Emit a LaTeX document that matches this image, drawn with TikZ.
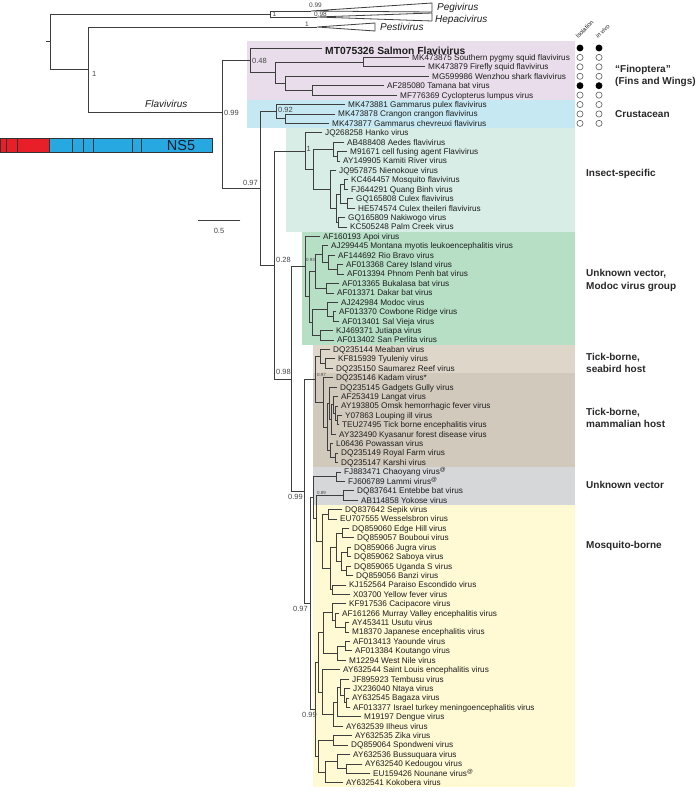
\documentclass[tikz,border=0pt]{standalone}
\usepackage{fontspec}
\setmainfont{Liberation Sans}
\definecolor{treec}{RGB}{62,62,62}
\definecolor{txtc}{RGB}{30,30,30}
\definecolor{supc}{RGB}{70,70,70}
\definecolor{grpc}{RGB}{40,40,40}
\definecolor{finc}{RGB}{233,221,235}
\definecolor{cruc}{RGB}{198,232,242}
\definecolor{insc}{RGB}{216,237,229}
\definecolor{modc}{RGB}{182,223,198}
\definecolor{seac}{RGB}{221,214,201}
\definecolor{mamc}{RGB}{209,201,188}
\definecolor{uvc}{RGB}{214,215,217}
\definecolor{mosc}{RGB}{255,249,212}
\definecolor{nsred}{RGB}{232,30,40}
\definecolor{nsblue}{RGB}{40,168,224}
\definecolor{dotc}{RGB}{90,90,90}
\newcommand{\tnode}[5]{\draw[br] (#1,#5) -- (#2,#5); \draw[br] (#2,#3) -- (#2,#4);}
\newcommand{\tleaf}[5]{\draw[br] (#2,#3) -- (#4,#3); \node[leaf] (#1) at (#4,#3) {#5};}
\begin{document}
\begin{tikzpicture}[x=1pt,y=-1pt,
  br/.style={draw=treec, line width=0.8pt, line cap=rect},
  leaf/.style={anchor=base west, xshift=3pt, yshift=-2.9pt, inner sep=0pt, font=\fontsize{8.2}{9.5}\selectfont, text=txtc},
  sup/.style={inner sep=0pt, font=\fontsize{7.5}{8}\selectfont, text=supc},
  tsup/.style={inner sep=0pt, font=\fontsize{6.5}{7}\selectfont, text=supc},
  ssup/.style={inner sep=0pt, font=\fontsize{4.5}{5}\selectfont, text=supc},
  grp/.style={anchor=base west, inner sep=0pt, font=\bfseries\fontsize{10}{12}\selectfont, text=grpc},
  clade/.style={anchor=base west, inner sep=0pt, font=\itshape\fontsize{10}{12}\selectfont, text=txtc},
  hdr/.style={anchor=base west, inner sep=0pt, rotate=45, font=\fontsize{6}{7}\selectfont, text=txtc},
  odot/.style={draw=dotc, line width=0.6pt, fill=white},
  fdot/.style={draw=black, fill=black, line width=0.6pt}]
\useasboundingbox (0,0) rectangle (697,796);
\fill[white] (0,0) rectangle (697,796);

\begin{scope}[yshift=-48pt, y=-9.42pt]
% clade boxes
\fill[finc] (247,-0.75) rectangle (575,5.5);
\fill[cruc] (247,5.5) rectangle (575,8.5);
\fill[insc] (286,8.5) rectangle (575,19.5);
\fill[modc] (302,19.5) rectangle (575,31.5);
\fill[seac] (313,31.5) rectangle (575,34.5);
\fill[mamc] (313,34.5) rectangle (575,44.5);
\fill[uvc] (313,44.5) rectangle (575,48.5);
\fill[mosc] (313,48.5) rectangle (575,78.5);

% Finoptera
\tnode{222}{250}{0}{2.625}{1.3125}
\draw[br] (250,0) -- (322,0);
\node[leaf, font=\bfseries\fontsize{10.3}{12}\selectfont, yshift=-3.7pt] (L0) at (322,0) {MT075326 Salmon Flavivirus};
\tnode{250}{275}{1.5}{3.75}{2.625}
\tnode{275}{363}{1}{2}{1.5}
\tleaf{L1}{363}{1}{409}{MK473875 Southern pygmy squid flavivirus}
\tleaf{L2}{363}{2}{425}{MK473879 Firefly squid flavivirus}
\tnode{275}{285}{3}{4.5}{3.75}
\tleaf{L3}{285}{3}{429}{MG599986 Wenzhou shark flavivirus}
\tnode{285}{312}{4}{5}{4.5}
\tleaf{L4}{312}{4}{384}{AF285080 Tamana bat virus}
\tleaf{L5}{312}{5}{397}{MF776369 Cyclopterus lumpus virus}

\draw[br] (222,1.3125) -- (222,14.894);
\tnode{222}{260}{6.75}{23.0375}{14.894}
% Crustacean
\tnode{260}{276}{6}{7.5}{6.75}
\tleaf{L6}{276}{6}{345}{MK473881 Gammarus pulex flavivirus}
\tnode{276}{285}{7}{8}{7.5}
\tleaf{L7}{285}{7}{335}{MK473878 Crangon crangon flavivirus}
\tleaf{L8}{285}{8}{329}{MK473877 Gammarus chevreuxi flavivirus}

% Insect-specific
\tnode{260}{274}{10.9375}{35.1375}{23.0375}
\tnode{274}{305}{9}{12.875}{10.9375}
\tleaf{L9}{305}{9}{322}{JQ268258 Hanko virus}
\tnode{305}{313}{10.75}{15}{12.875}
\tnode{313}{333}{10}{11.5}{10.75}
\tleaf{L10}{333}{10}{344}{AB488408 Aedes flavivirus}
\tnode{333}{337}{11}{12}{11.5}
\tleaf{L11}{337}{11}{347}{M91671 cell fusing agent Flavivirus}
\tleaf{L12}{337}{12}{340}{AY149905 Kamiti River virus}
\tnode{313}{330}{13}{17}{15}
\tleaf{L13}{330}{13}{336}{JQ957875 Nienokoue virus}
\tnode{330}{336}{15.5}{18.5}{17}
\tnode{336}{340}{14.5}{16.5}{15.5}
\tnode{340}{344}{14}{15}{14.5}
\tleaf{L14}{344}{14}{348}{KC464457 Mosquito flavivirus}
\tleaf{L15}{344}{15}{348}{FJ644291 Quang Binh virus}
\tnode{340}{347}{16}{17}{16.5}
\tleaf{L16}{347}{16}{353}{GQ165808 Culex flavivirus}
\tleaf{L17}{347}{17}{355}{HE574574 Culex theileri flavivirus}
\tnode{336}{338}{18}{19}{18.5}
\tleaf{L18}{338}{18}{345}{GQ165809 Nakiwogo virus}
\tleaf{L19}{338}{19}{347}{KC505248 Palm Creek virus}

% Modoc group
\tnode{274}{291}{23.203}{47.072}{35.1375}
\tnode{291}{305}{20}{26.406}{23.203}
\tleaf{L20}{305}{20}{320}{AF160193 Apoi virus}
\tnode{305}{309}{23.6875}{29.125}{26.406}
\tnode{309}{315}{21.875}{25.5}{23.6875}
\tnode{315}{322}{21}{22.75}{21.875}
\tleaf{L21}{322}{21}{328}{AJ299445 Montana myotis leukoencephalitis virus}
\tnode{322}{328}{22}{23.5}{22.75}
\tleaf{L22}{328}{22}{335}{AF144692 Rio Bravo virus}
\tnode{328}{337}{23}{24}{23.5}
\tleaf{L23}{337}{23}{343}{AF013368 Carey Island virus}
\tleaf{L24}{337}{24}{344}{AF013394 Phnom Penh bat virus}
\tnode{315}{326}{25}{26}{25.5}
\tleaf{L25}{326}{25}{339}{AF013365 Bukalasa bat virus}
\tleaf{L26}{326}{26}{334}{AF013371 Dakar bat virus}
\tnode{309}{312}{27.75}{30.5}{29.125}
\tnode{312}{327}{27}{28.5}{27.75}
\tleaf{L27}{327}{27}{338}{AJ242984 Modoc virus}
\tnode{327}{333}{28}{29}{28.5}
\tleaf{L28}{333}{28}{336}{AF013370 Cowbone Ridge virus}
\tleaf{L29}{333}{29}{339}{AF013401 Sal Vieja virus}
\tnode{312}{320}{30}{31}{30.5}
\tleaf{L30}{320}{30}{333}{KJ469371 Jutiapa virus}
\tleaf{L31}{320}{31}{334}{AF013402 San Perlita virus}

% Tick-borne
\tnode{291}{304}{35.184}{58.959}{47.072}
\tnode{304}{315}{32.75}{37.617}{35.184}
\tnode{315}{320}{32}{33.5}{32.75}
\tleaf{L32}{320}{32}{330}{DQ235144 Meaban virus}
\tnode{320}{325}{33}{34}{33.5}
\tleaf{L33}{325}{33}{335}{KF815939 Tyuleniy virus}
\tleaf{L34}{325}{34}{333}{DQ235150 Saumarez Reef virus}
\tnode{315}{323}{35}{40.234}{37.617}
\tleaf{L35}{323}{35}{333}{DQ235146 Kadam virus*}
\tnode{323}{327}{37.719}{42.75}{40.234}
\tnode{327}{329}{36}{39.4375}{37.719}
\tleaf{L36}{329}{36}{337}{DQ235145 Gadgets Gully virus}
\tnode{329}{331}{37.875}{41}{39.4375}
\tnode{331}{333}{37}{38.75}{37.875}
\tleaf{L37}{333}{37}{338}{AF253419 Langat virus}
\tnode{333}{335}{38}{39.5}{38.75}
\tleaf{L38}{335}{38}{338}{AY193805 Omsk hemorrhagic fever virus}
\tnode{335}{337}{39}{40}{39.5}
\tleaf{L39}{337}{39}{342}{Y07863 Louping ill virus}
\tleaf{L40}{337}{40}{339}{TEU27495 Tick borne encephalitis virus}
\tleaf{L41}{331}{41}{336}{AY323490 Kyasanur forest disease virus}
\tnode{327}{330}{42}{43.5}{42.75}
\tleaf{L42}{330}{42}{333}{L06436 Powassan virus}
\tnode{330}{335}{43}{44}{43.5}
\tleaf{L43}{335}{43}{338}{DQ235149 Royal Farm virus}
\tleaf{L44}{335}{44}{338}{DQ235147 Karshi virus}

% Unknown vector + mosquito-borne
\tnode{304}{310}{47.719}{70.199}{58.959}
\tnode{310}{313}{45.5}{49.9375}{47.719}
\tnode{313}{336}{45}{46}{45.5}
\tleaf{L45}{336}{45}{341}{FJ883471 Chaoyang virus\textsuperscript{@}}
\tleaf{L46}{336}{46}{345}{FJ606789 Lammi virus\textsuperscript{@}}
\tnode{313}{316}{47.5}{52.375}{49.9375}
\tnode{316}{343}{47}{48}{47.5}
\tleaf{L47}{343}{47}{354}{DQ837641 Entebbe bat virus}
\tleaf{L48}{343}{48}{358}{AB114858 Yokose virus}
\tnode{316}{322}{49.5}{55.25}{52.375}
\tnode{322}{328}{49}{50}{49.5}
\tleaf{L49}{328}{49}{342}{DQ837642 Sepik virus}
\tleaf{L50}{328}{50}{337}{EU707555 Wesselsbron virus}
\tnode{322}{330}{53}{57.5}{55.25}
\tnode{330}{336}{51.5}{54.5}{53}
\tnode{336}{342}{51}{52}{51.5}
\tleaf{L51}{342}{51}{349}{DQ859060 Edge Hill virus}
\tleaf{L52}{342}{52}{354}{DQ859057 Bouboui virus}
\tnode{336}{341}{53.5}{55.5}{54.5}
\tnode{341}{347}{53}{54}{53.5}
\tleaf{L53}{347}{53}{351}{DQ859066 Jugra virus}
\tleaf{L54}{347}{54}{351}{DQ859062 Saboya virus}
\tnode{341}{346}{55}{56}{55.5}
\tleaf{L55}{346}{55}{351}{DQ859065 Uganda S virus}
\tleaf{L56}{346}{56}{353}{DQ859056 Banzi virus}
\tnode{330}{332}{57}{58}{57.5}
\tleaf{L57}{332}{57}{346}{KJ152564 Paraiso Escondido virus}
\tleaf{L58}{332}{58}{350}{X03700 Yellow fever virus}

\tnode{310}{315}{65.211}{75.1875}{70.199}
\tnode{315}{318}{62.0625}{68.359}{65.211}
\tnode{318}{323}{59.875}{64.25}{62.0625}
\tnode{323}{332}{59}{60.75}{59.875}
\tleaf{L59}{332}{59}{346}{KF917536 Cacipacore virus}
\tnode{332}{335}{60}{61.5}{60.75}
\tleaf{L60}{335}{60}{339}{AF161266 Murray Valley encephalitis virus}
\tnode{335}{345}{61}{62}{61.5}
\tleaf{L61}{345}{61}{349}{AY453411 Usutu virus}
\tleaf{L62}{345}{62}{349}{M18370 Japanese encephalitis virus}
\tnode{323}{337}{63.5}{65}{64.25}
\tnode{337}{345}{63}{64}{63.5}
\tleaf{L63}{345}{63}{350}{AF013413 Yaounde virus}
\tleaf{L64}{345}{64}{352}{AF013384 Koutango virus}
\tleaf{L65}{337}{65}{346}{M12294 West Nile virus}
\tnode{318}{322}{66}{70.719}{68.359}
\tleaf{L66}{322}{66}{340}{AY632544 Saint Louis encephalitis virus}
\tnode{322}{333}{69.4375}{72}{70.719}
\tnode{333}{337}{67.875}{71}{69.4375}
\tnode{337}{340}{67}{68.75}{67.875}
\tleaf{L67}{340}{67}{349}{JF895923 Tembusu virus}
\tnode{340}{344}{68}{69.5}{68.75}
\tleaf{L68}{344}{68}{350}{JX236040 Ntaya virus}
\tnode{344}{346}{69}{70}{69.5}
\tleaf{L69}{346}{69}{349}{AY632545 Bagaza virus}
\tleaf{L70}{346}{70}{350}{AF013377 Israel turkey meningoencephalitis virus}
\tleaf{L71}{337}{71}{361}{M19197 Dengue virus}
\tleaf{L72}{333}{72}{343}{AY632539 Ilheus virus}
\tnode{315}{318}{73.5}{76.875}{75.1875}
\tnode{318}{333}{73}{74}{73.5}
\tleaf{L73}{333}{73}{352}{AY632535 Zika virus}
\tleaf{L74}{333}{74}{348}{DQ859064 Spondweni virus}
\tnode{318}{325}{75.75}{78}{76.875}
\tnode{325}{337}{75}{76.5}{75.75}
\tleaf{L75}{337}{75}{350}{AY632536 Bussuquara virus}
\tnode{337}{346}{76}{77}{76.5}
\tleaf{L76}{346}{76}{362}{AY632540 Kedougou virus}
\tleaf{L77}{346}{77}{370}{EU159426 Nounane virus\textsuperscript{@}}
\tleaf{L78}{325}{78}{343}{AY632541 Kokobera virus}

% isolation / in vivo dots
\foreach \i in {1,2,3,5,6,7,8} {\draw[odot] (580,\i) circle (3.1pt); \draw[odot] (599,\i) circle (3.1pt);}
\foreach \i in {0,4} {\draw[fdot] (580,\i) circle (3.1pt); \draw[fdot] (599,\i) circle (3.1pt);}
\end{scope}

% outgroups and deep nodes
\draw[br] (46,41.75) -- (50,41.75);
\draw[br] (50,14) -- (50,69.5);
\draw[br] (50,14) -- (270,14);
\draw[br] (270,11) -- (270,17);
\draw[br] (270,11) -- (311,11);
\draw[br, line join=miter] (311,11) -- (432,3) -- (432,12) -- cycle;
\draw[br] (270,17) -- (317,17);
\draw[br, line join=miter] (317,17) -- (432,13) -- (432,21) -- cycle;
\draw[br] (50,69.5) -- (88,69.5);
\draw[br] (88,27) -- (88,112);
\draw[br] (88,27) -- (317,27);
\draw[br, line join=miter] (317,27) -- (375,23) -- (375,31) -- cycle;
\draw[br] (88,112) -- (222,112);

\node[clade] (peg) at (437,10.5) {Pegivirus};
\node[clade] (hep) at (435,22.5) {Hepacivirus};
\node[clade] (pes) at (380,30.5) {Pestivirus};
\node[clade] (fla) at (145,107.5) {Flavivirus};

% support values
\node[tsup, anchor=base west] (s1) at (309,7) {0.99};
\node[tsup, anchor=base west] (s2) at (272.5,16.3) {1};
\node[tsup, anchor=base west] (s3) at (314,16.6) {0.98};
\node[tsup, anchor=base west] (s4) at (305,26) {1};
\node[sup, anchor=base west] (s5) at (92,76) {1};
\node[sup, anchor=base west] (s6) at (252,63) {0.48};
\node[sup, anchor=base west] (s7) at (224,115.5) {0.99};
\node[sup, anchor=base west] (s8) at (278,112) {0.92};
\node[sup, anchor=base east] (s9) at (258,185.5) {0.97};
\node[sup, anchor=base west] (s10) at (306.5,151.5) {1};
\node[sup, anchor=base west] (s11) at (276,262) {0.28};
\node[ssup, anchor=base west] (s12) at (306,261.5) {0.93};
\node[sup, anchor=base west] (s13) at (276,374) {0.98};
\node[ssup, anchor=base west] (s14) at (317,376.5) {0.97};
\node[sup, anchor=base east] (s15) at (303,499) {0.99};
\node[ssup, anchor=base west] (s16) at (317,494) {0.89};
\node[sup, anchor=base east] (s17) at (308,611) {0.97};
\node[sup, anchor=base east] (s18) at (317,717) {0.99};

% NS5 bar
\fill[nsred] (0,138) rectangle (49,152);
\fill[nsblue] (49,138) rectangle (212,152);
\foreach \x in {6,17,49,72,83,93,132,141} \draw[draw=black!80, line width=0.6pt] (\x,138) -- (\x,152);
\draw[draw=black!80, line width=0.7pt] (0,138) rectangle (212,152);
\node[inner sep=0pt, font=\fontsize{14.5}{16}\selectfont, text={rgb,255:red,20;green,30;blue,45}] (ns5) at (181,145.5) {NS5};

% scale bar
\draw[br] (198,220) -- (240,220);
\node[sup, anchor=base] (scale) at (219,233) {0.5};

% column headers
\node[hdr] (iso) at (578,39) {Isolation};
\node[hdr] (inv) at (598,39) {\itshape in vivo};

% group labels
\node[grp] (g1) at (615,72) {“Finoptera”};
\node[grp] (g2) at (615,84.5) {(Fins and Wings)};
\node[grp] (g3) at (615,117.6) {Crustacean};
\node[grp] (g4) at (586,176.6) {Insect-specific};
\node[grp] (g5) at (586,276.6) {Unknown vector,};
\node[grp] (g6) at (586,289) {Modoc virus group};
\node[grp] (g7) at (586,360.6) {Tick-borne,};
\node[grp] (g8) at (586,372.6) {seabird host};
\node[grp] (g9) at (586,415.6) {Tick-borne,};
\node[grp] (g10) at (586,427.6) {mammalian host};
\node[grp] (g11) at (586,488.6) {Unknown vector};
\node[grp] (g12) at (586,548.6) {Mosquito-borne};
\end{tikzpicture}
\end{document}
